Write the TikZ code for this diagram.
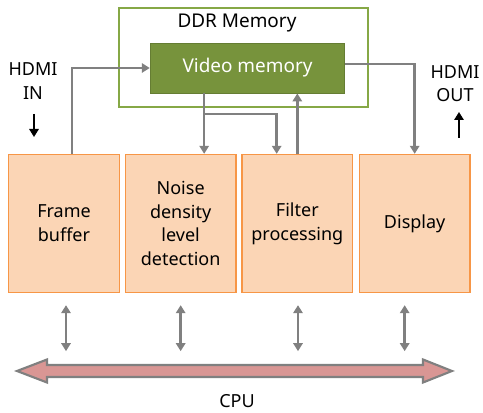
\documentclass[tikz,border=0pt]{standalone}
\usepackage{fontspec}
\setmainfont{Noto Sans}
\usepackage{xcolor}
\usetikzlibrary{arrows.meta, positioning, calc}
\definecolor{boxfill}{HTML}{FBD5B5}
\definecolor{boxline}{HTML}{F79646}
\definecolor{memfill}{HTML}{77933C}
\definecolor{ddrline}{HTML}{86A846}
\definecolor{linkgray}{HTML}{808080}
\definecolor{busfill}{HTML}{D99694}
\tikzstyle{module} = [rectangle, draw=boxline, fill=boxfill, line width=1pt, minimum width=83pt, minimum height=103.5pt, inner sep=0pt, align=center, font=\fontsize{13.5}{17.8}\selectfont]
\tikzstyle{memory} = [rectangle, draw=memfill!85!black, fill=memfill, line width=0.6pt, minimum width=146pt, minimum height=37.5pt, text=white, font=\fontsize{14.2}{16}\selectfont]
\tikzstyle{ddr} = [rectangle, draw=ddrline, line width=1.2pt, minimum width=186.5pt, minimum height=74pt]
\tikzstyle{label} = [align=center, inner sep=1pt, font=\fontsize{13.5}{17.5}\selectfont]
\tikzstyle{link} = [draw=linkgray, line width=1.9pt, -{Triangle[width=7pt,length=6pt]}]
\tikzstyle{cpulink} = [draw=linkgray, line width=1.9pt, {Triangle[width=7pt,length=6pt]}-{Triangle[width=7pt,length=6pt]}]
\tikzstyle{hdmi} = [black, line width=1.4pt, -{Triangle[width=7pt,length=6pt]}]

\begin{document}
\begin{tikzpicture}[x=0.75pt, y=-0.75pt]
\useasboundingbox (0,0) rectangle (483,413);

% Memory blocks
\node (ddr) [ddr] at (243.5,57.5) {};
\node (ddrtext) [label, font=\fontsize{14.2}{16}\selectfont] at (237,23) {DDR Memory};
\node (vmem) [memory] at (247.5,68) {Video memory};

% Processing blocks
\node (frame) [module] at (64,223.5) {Frame\\buffer};
\node (noise) [module, right=3.5pt of frame] {Noise\\density\\level\\detection};
\node (filter) [module, right=3.5pt of noise] {Filter\\processing};
\node (display) [module, right=4pt of filter] {Display};

% HDMI labels
\node (hdmiin) [label] at (33,81) {HDMI\\IN};
\node (hdmiout) [label] at (455,84) {HDMI\\OUT};
\draw [hdmi] ([xshift=0.75pt]hdmiin.south |- 0,114) -- ([xshift=0.75pt]hdmiin.south |- 0,137);
\draw [hdmi] ([xshift=3pt]hdmiout.south |- 0,138) -- ([xshift=3pt]hdmiout.south |- 0,112);

% Data paths
\coordinate (split) at ([xshift=-32.5pt]vmem.south |- 0,114);
\draw [link] ([xshift=6pt]frame.north) |- (vmem.west);
\draw [link] ([xshift=-32.5pt]vmem.south) -- ([xshift=-32.5pt]vmem.south |- noise.north);
\draw [link] (split) -| ([xshift=-15.5pt]filter.north);
\draw [link] (filter.north) -- (filter.north |- vmem.south);
\draw [link] ([yshift=3pt]vmem.east) -| (display.north);

% CPU bus
\draw [cpulink] ([xshift=1.5pt,yshift=-9pt]frame.south) -- ++(0,-34.5pt);
\draw [cpulink] ([yshift=-9pt]noise.south) -- ++(0,-34.5pt);
\draw [cpulink] ([xshift=0.5pt,yshift=-9pt]filter.south) -- ++(0,-34.5pt);
\draw [cpulink] ([xshift=-7.5pt,yshift=-9pt]display.south) -- ++(0,-34.5pt);
\draw [draw=linkgray, fill=busfill, line width=1.6pt, line join=miter]
  (17,371) -- (47,359.5) -- (47,365) -- (423,365) -- (423,359.5) -- (452,371)
  -- (423,382.5) -- (423,377) -- (47,377) -- (47,382.5) -- cycle;
\node (cpu) [label] at (237,401) {CPU};

\end{tikzpicture}
\end{document}
